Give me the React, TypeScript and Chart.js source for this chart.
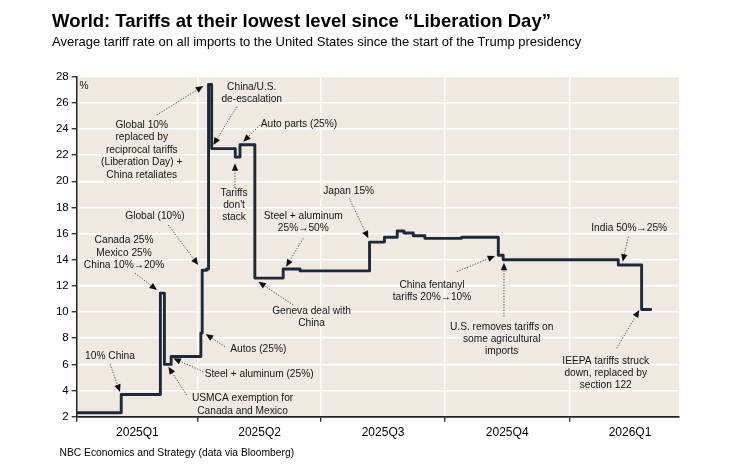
import React, { useEffect, useRef } from "react";
import { Chart, registerables } from "chart.js";

Chart.register(...registerables);

// ---- Data (days since 2025-01-01, average US tariff rate %) ----
const changeDays = [0, 33, 62, 65, 70, 92, 93, 96.3, 97.7, 100, 117.5, 121, 132, 153, 165.5, 217, 228, 237.5, 242.5, 249.4, 258, 285.3, 312.4, 316, 401.3, 418.6, 425.3];
const tariffRate = [2.3, 3.7, 11.45, 6.0, 6.6, 8.4, 13.2, 13.3, 27.4, 22.5, 21.85, 22.8, 12.6, 13.3, 13.15, 15.35, 15.72, 16.2, 16.05, 15.84, 15.64, 15.72, 14.35, 14.0, 13.6, 10.2, 10.2];

const quarterStarts = [0, 90, 181, 273, 365];
const quarterMids = [45, 135.5, 227, 319, 410];
const quarterLabels = ["2025Q1", "2025Q2", "2025Q3", "2025Q4", "2026Q1"];
const xMax = 446.3;
const yMin = 2;
const yMax = 28;
const yStep = 2;

const titleText = "World: Tariffs at their lowest level since \u201cLiberation Day\u201d";
const subtitleText = "Average tariff rate on all imports to the United States since the start of the Trump presidency";
const footerText = "NBC Economics and Strategy (data via Bloomberg)";
const unitLabel = "%";

type Note = { label: string[]; at: [number, number]; from?: [number, number]; to?: [number, number] };

const notes: Note[] = [
  { label: ["10% China"], at: [24.7, 6.59], from: [24.7, 6.03], to: [32.1, 3.89] },
  { label: ["Canada 25%", "Mexico 25%", "China 10%\u219220%"], at: [35.1, 14.54], from: [43.2, 12.97], to: [59.5, 11.69] },
  { label: ["Global (10%)"], at: [58.0, 17.37], from: [67.9, 16.66], to: [90.1, 13.6] },
  { label: ["Global 10%", "replaced by", "reciprocal tariffs", "(Liberation Day) +", "China retaliates"], at: [48.2, 22.39], from: [59.3, 25.07], to: [93.8, 27.29] },
  { label: ["China/U.S.", "de-escalation"], at: [129.7, 26.75], from: [118.6, 25.71], to: [101.2, 22.78] },
  { label: ["Auto parts (25%)"], at: [164.7, 24.36], from: [135.8, 24.31], to: [123.4, 23.03] },
  { label: ["Tariffs", "don't", "stack"], at: [116.6, 18.17], from: [117.3, 19.49], to: [117.3, 21.38] },
  { label: ["Steel + aluminum", "25%\u219250%"], at: [167.9, 16.89], from: [167.9, 15.64], to: [155.1, 13.47] },
  { label: ["Japan 15%"], at: [201.5, 19.28], from: [202, 18.7], to: [216.1, 15.64] },
  { label: ["Geneva deal with", "China"], at: [174, 9.59], from: [160.5, 10.54], to: [134.6, 12.32] },
  { label: ["China fentanyl", "tariffs 20%\u219210%"], at: [263.3, 11.61], from: [281.6, 13.09], to: [310, 14.29] },
  { label: ["U.S. removes tariffs on", "some agricultural", "imports"], at: [314.9, 7.92], from: [316.6, 9.65], to: [316.6, 13.78] },
  { label: ["India 50%\u219225%"], at: [409.4, 16.41], from: [408.7, 15.77], to: [404.6, 13.85] },
  { label: ["IEEPA tariffs struck", "down, replaced by", "section 122"], at: [392, 5.32], from: [400.1, 7.23], to: [416.9, 10.16] },
  { label: ["Autos (25%)"], at: [134.6, 7.15], from: [109.9, 7.35], to: [95.6, 8.32] },
  { label: ["Steel + aluminum (25%)"], at: [135.2, 5.24], from: [93.8, 5.44], to: [71.6, 6.47] },
  { label: ["USMCA exemption for", "Canada and Mexico"], at: [122.9, 2.93], from: [81.5, 3.66], to: [67.9, 5.82] },
  { label: [unitLabel], at: [5.4, 27.31] },
];

const FONT = '"Liberation Sans", Arial, Helvetica, sans-serif';
const PLOT_BG = "#efe9e1";
const LINE_COLOR = "#1c2938";

const plotBackground = {
  id: "plotBackground",
  beforeDraw(chart: any) {
    const { ctx, chartArea } = chart;
    ctx.save();
    ctx.fillStyle = PLOT_BG;
    ctx.fillRect(chartArea.left, chartArea.top, chartArea.right - chartArea.left, chartArea.bottom - chartArea.top);
    ctx.restore();
  },
};

const notesPlugin = {
  id: "notes",
  afterDatasetsDraw(chart: any) {
    const { ctx } = chart;
    const xs = chart.scales.x;
    const ys = chart.scales.y;
    const lh = 12.4;
    ctx.save();
    ctx.font = `10.2px ${FONT}`;
    ctx.textAlign = "center";
    ctx.textBaseline = "middle";
    for (const n of notes) {
      const cx = xs.getPixelForValue(n.at[0]);
      const cy = ys.getPixelForValue(n.at[1]);
      ctx.fillStyle = "#161616";
      const k = n.label.length;
      n.label.forEach((t, i) => ctx.fillText(t, cx, cy + (i - (k - 1) / 2) * lh));
      if (n.from && n.to) {
        const fx = xs.getPixelForValue(n.from[0]);
        const fy = ys.getPixelForValue(n.from[1]);
        const tx = xs.getPixelForValue(n.to[0]);
        const ty = ys.getPixelForValue(n.to[1]);
        const ang = Math.atan2(ty - fy, tx - fx);
        const L = 7.5;
        const W = 3.2;
        const c = Math.cos(ang);
        const s = Math.sin(ang);
        const bx = tx - L * c;
        const by = ty - L * s;
        ctx.strokeStyle = "#333";
        ctx.lineWidth = 0.8;
        ctx.setLineDash([1.3, 1.5]);
        ctx.beginPath();
        ctx.moveTo(fx, fy);
        ctx.lineTo(bx, by);
        ctx.stroke();
        ctx.setLineDash([]);
        ctx.fillStyle = "#111";
        ctx.beginPath();
        ctx.moveTo(tx, ty);
        ctx.lineTo(bx + W * s, by - W * c);
        ctx.lineTo(bx - W * s, by + W * c);
        ctx.closePath();
        ctx.fill();
      }
    }
    ctx.restore();
  },
};

export default function App() {
  const canvasRef = useRef<HTMLCanvasElement | null>(null);

  useEffect(() => {
    if (!canvasRef.current) return;
    const points = changeDays.map((d, i) => ({ x: d, y: tariffRate[i] }));
    const allXTicks = [...quarterStarts, ...quarterMids].sort((a, b) => a - b);
    const yTicks: number[] = [];
    for (let v = yMin; v <= yMax; v += yStep) yTicks.push(v);

    const chart = new Chart(canvasRef.current, {
      type: "line",
      data: {
        datasets: [
          {
            data: points,
            stepped: true,
            borderColor: LINE_COLOR,
            borderWidth: 2.9,
            borderJoinStyle: "round",
            borderCapStyle: "round",
            pointRadius: 0,
            fill: false,
          } as any,
        ],
      },
      options: {
        animation: false,
        responsive: false,
        devicePixelRatio: 1,
        layout: { padding: { left: 0, top: 76.7, right: 53, bottom: 0 } },
        plugins: { legend: { display: false }, tooltip: { enabled: false }, title: { display: false } },
        scales: {
          x: {
            type: "linear",
            min: 0,
            max: xMax,
            afterBuildTicks: (axis: any) => {
              axis.ticks = allXTicks.map((v) => ({ value: v }));
            },
            afterFit: (axis: any) => {
              axis.height = 48.3;
            },
            ticks: {
              autoSkip: false,
              maxRotation: 0,
              padding: 4,
              color: "#000",
              font: { family: FONT, size: 12 },
              callback: (value: any) => {
                const i = quarterMids.indexOf(Number(value));
                return i >= 0 ? quarterLabels[i] : "";
              },
            },
            grid: {
              color: (ctx: any) => {
                const v = ctx.tick ? ctx.tick.value : -1;
                return quarterStarts.includes(v) && v !== 0 ? "#ffffff" : "rgba(0,0,0,0)";
              },
              tickColor: (ctx: any) => {
                const v = ctx.tick ? ctx.tick.value : -1;
                return quarterStarts.includes(v) ? "#111" : "rgba(0,0,0,0)";
              },
              lineWidth: 1.5,
              tickLength: 5,
              tickWidth: 1.2,
            },
            border: { display: true, color: "#222", width: 1.8 },
          },
          y: {
            type: "linear",
            min: yMin,
            max: yMax,
            afterBuildTicks: (axis: any) => {
              axis.ticks = yTicks.map((v) => ({ value: v }));
            },
            afterFit: (axis: any) => {
              axis.width = 76.7;
            },
            ticks: {
              padding: 3,
              color: "#000",
              font: { family: FONT, size: 11.5 },
              callback: (value: any) => String(value),
            },
            grid: {
              color: (ctx: any) => (ctx.tick && ctx.tick.value === yMin ? "rgba(0,0,0,0)" : "#ffffff"),
              tickColor: "#111",
              lineWidth: 1.5,
              tickLength: 5,
              tickWidth: 1.2,
            },
            border: { display: true, color: "#222", width: 1.5 },
          },
        },
      },
      plugins: [plotBackground, notesPlugin],
    });
    return () => chart.destroy();
  }, []);

  return (
    <div style={{ position: "fixed", left: 0, top: 0, width: 732, height: 465, background: "#fff", overflow: "hidden" }}>
      <canvas ref={canvasRef} width={732} height={465} style={{ position: "absolute", left: 0, top: 0, width: 732, height: 465 }} />
      <div style={{ position: "absolute", left: 52, top: 10.5, font: `bold 18.5px ${FONT}`, lineHeight: "19px", color: "#000", whiteSpace: "nowrap" }}>
        {titleText}
      </div>
      <div style={{ position: "absolute", left: 52, top: 35, font: `13px ${FONT}`, lineHeight: "14px", color: "#000", whiteSpace: "nowrap" }}>
        {subtitleText}
      </div>
      <div style={{ position: "absolute", left: 59.5, top: 446.5, font: `10.3px ${FONT}`, lineHeight: "11px", color: "#000", whiteSpace: "nowrap" }}>
        {footerText}
      </div>
    </div>
  );
}
